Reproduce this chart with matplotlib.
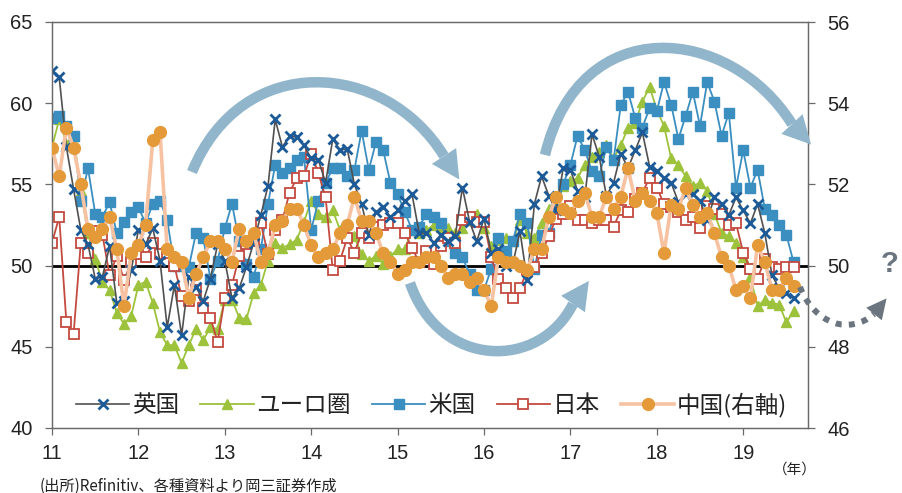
import matplotlib
matplotlib.use('Agg')
import matplotlib.pyplot as plt
import numpy as np
from matplotlib.path import Path
from matplotlib.patches import PathPatch, Polygon
from matplotlib import font_manager as fm

W, H = 903, 493

# ---------------- data (monthly, Jan 2011 - Aug 2019) ----------------
year_labels = ['11', '12', '13', '14', '15', '16', '17', '18', '19']

uk = [62.0, 61.6, 57.3, 54.7, 52.2, 51.3, 49.2, 49.3, 51.2, 47.7, 47.8, 49.7,
      52.2, 51.3, 52.3, 50.3, 46.2, 48.8, 45.7, 49.3, 48.7, 47.8, 49.2, 51.3,
      50.3, 48.0, 48.6, 49.9, 51.4, 53.1, 54.9, 59.0, 57.3, 58.0, 57.9, 57.4,
      56.6, 56.5, 55.1, 57.8, 57.1, 57.2, 55.0, 53.8, 51.9, 53.3, 53.6, 53.0,
      53.4, 54.0, 54.4, 52.0, 52.0, 51.4, 51.9, 51.5, 51.8, 54.8, 52.7, 51.5,
      52.9, 50.8, 51.0, 50.0, 50.1, 52.1, 49.1, 53.8, 55.5, 54.3, 53.4, 56.0,
      55.9, 54.6, 54.2, 58.1, 56.7, 54.3, 55.1, 56.9, 56.0, 57.1, 58.2, 56.1,
      55.8, 55.4, 55.1, 53.9, 54.4, 54.4, 54.0, 52.8, 54.2, 53.8, 53.1, 54.2,
      53.4, 52.6, 53.8, 52.0, 49.4, 48.6, 48.3, 48.0]

euro = [57.3, 59.0, 57.5, 58.0, 54.6, 52.0, 50.4, 49.0, 48.5, 47.1, 46.4, 46.9,
        48.8, 49.0, 47.7, 45.9, 45.1, 45.1, 44.0, 45.1, 46.1, 45.4, 46.2, 46.1,
        47.9, 47.9, 46.8, 46.7, 48.3, 48.8, 50.3, 51.4, 51.1, 51.3, 51.6, 52.7,
        54.0, 53.2, 53.0, 53.4, 52.2, 51.8, 51.8, 50.7, 50.3, 50.6, 50.1, 50.6,
        51.0, 51.0, 52.2, 52.0, 52.2, 52.5, 52.4, 52.3, 52.0, 52.3, 52.8, 53.2,
        52.3, 51.2, 51.6, 51.7, 51.5, 52.8, 52.0, 51.7, 52.6, 53.5, 53.7, 54.9,
        55.2, 55.4, 56.2, 56.7, 57.0, 57.4, 56.6, 57.4, 58.5, 58.8, 60.1, 61.0,
        59.6, 58.6, 56.6, 56.2, 55.5, 54.9, 55.1, 54.6, 53.2, 52.0, 51.8, 51.4,
        50.5, 49.3, 47.5, 47.9, 47.7, 47.6, 46.5, 47.2]

us = [59.1, 59.2, 58.6, 58.0, 54.0, 56.0, 53.2, 53.0, 53.9, 52.0, 52.7, 53.3,
      53.6, 52.6, 53.8, 54.0, 52.8, 50.0, 50.0, 49.9, 52.0, 51.7, 49.2, 50.3,
      52.3, 53.8, 51.5, 50.1, 49.3, 51.0, 53.8, 56.2, 55.7, 56.0, 56.5, 56.7,
      52.2, 54.0, 55.1, 56.0, 56.0, 55.5, 55.9, 58.3, 55.9, 57.6, 57.1, 55.1,
      54.4, 53.3, 52.2, 52.4, 53.2, 53.0, 52.6, 51.5, 50.8, 50.5, 49.5, 48.5,
      48.5, 49.8, 51.7, 50.9, 51.5, 53.2, 52.6, 49.8, 51.9, 52.0, 53.5, 55.0,
      56.2, 58.0, 57.1, 55.8, 55.5, 57.3, 56.5, 59.9, 60.7, 59.1, 58.5, 59.7,
      59.5, 61.3, 59.9, 57.8, 59.2, 60.7, 58.6, 61.3, 60.1, 58.0, 59.4, 54.8,
      57.1, 54.8, 55.9, 53.5, 53.1, 52.5, 51.9, 50.2]

japan = [51.4, 53.0, 46.5, 45.8, 51.4, 50.8, 52.1, 51.9, 49.4, 50.6, 49.1, 50.2,
         50.7, 50.5, 51.4, 50.7, 50.8, 50.0, 48.1, 47.8, 48.5, 47.4, 46.8, 45.3,
         48.0, 48.8, 50.6, 51.3, 51.5, 52.6, 50.7, 52.2, 52.8, 54.5, 55.4, 55.5,
         56.9, 55.7, 54.2, 49.7, 50.3, 51.7, 50.8, 52.0, 51.7, 52.4, 52.5, 52.6,
         52.6, 52.0, 51.1, 50.2, 50.9, 50.1, 51.2, 51.7, 51.4, 52.8, 53.0, 52.7,
         52.7, 50.5, 49.2, 48.6, 48.0, 48.6, 49.7, 49.9, 50.8, 51.8, 52.9, 53.2,
         53.7, 52.8, 52.8, 52.6, 52.8, 52.8, 52.4, 53.4, 53.3, 54.1, 54.5, 55.4,
         54.8, 53.8, 53.6, 53.3, 52.8, 53.0, 52.3, 53.7, 53.5, 53.2, 52.5, 52.6,
         50.8, 49.8, 49.2, 50.4, 49.9, 49.8, 49.9, 49.9]

china = [52.9, 52.2, 53.4, 52.9, 52.0, 50.9, 50.7, 50.9, 51.2, 50.4, 49.0, 50.3,
         50.5, 51.0, 53.1, 53.3, 50.4, 50.2, 50.1, 49.2, 49.8, 50.2, 50.6, 50.6,
         50.4, 50.1, 50.9, 50.6, 50.8, 50.1, 50.3, 51.0, 51.1, 51.4, 51.4, 51.0,
         50.5, 50.2, 50.3, 50.4, 50.8, 51.0, 51.7, 51.1, 51.1, 50.8, 50.3, 50.1,
         49.8, 49.9, 50.1, 50.1, 50.2, 50.2, 50.0, 49.7, 49.8, 49.8, 49.6, 49.7,
         49.4, 49.0, 50.2, 50.1, 50.1, 50.0, 49.9, 50.4, 50.4, 51.2, 51.7, 51.4,
         51.3, 51.6, 51.8, 51.2, 51.2, 51.7, 51.4, 51.7, 52.4, 51.6, 51.8, 51.6,
         51.3, 50.3, 51.5, 51.4, 51.9, 51.5, 51.2, 51.3, 50.8, 50.2, 50.0, 49.4,
         49.5, 49.2, 50.5, 50.1, 49.4, 49.4, 49.7, 49.5]

labels = ['英国', 'ユーロ圏', '米国', '日本', '中国(右軸)']

# ---------------- fonts ----------------
def available(name):
    try:
        fm.findfont(name, fallback_to_default=False)
        return True
    except Exception:
        return False

num_font = 'Liberation Sans' if available('Liberation Sans') else 'DejaVu Sans'
plt.rcParams['font.family'] = [num_font, 'Noto Sans CJK JP', 'DejaVu Sans']
cjk = ['Noto Sans CJK JP', 'DejaVu Sans']

# ---------------- figure ----------------
fig = plt.figure(figsize=(W / 100, H / 100), dpi=100)
fig.patch.set_facecolor('white')
L, R, T, B = 52, 808, 22, 428
ax = fig.add_axes([L / W, 1 - B / H, (R - L) / W, (B - T) / H])
ax2 = ax.twinx()

m = np.arange(len(uk))

ax.axhline(50, color='black', lw=2.0, zorder=1.5)

h_eu, = ax.plot(m, euro, color='#9dc23c', lw=1.3, marker='^', ms=7,
                mfc='#9dc23c', mec='#9dc23c', zorder=3)
h_us, = ax.plot(m, us, color='#3a8ec0', lw=1.3, marker='s', ms=7.5,
                mfc='#3a8ec0', mec='#3a8ec0', zorder=3)
h_jp, = ax.plot(m, japan, color='#c44a40', lw=1.3, marker='s', ms=7.5,
                mfc='white', mec='#c44a40', mew=1.3, zorder=3)
h_uk, = ax.plot(m, uk, color='#505050', lw=1.2, marker='x', ms=7,
                mec='#1d5a98', mew=2.0, zorder=4)
h_cn, = ax2.plot(m, china, color='#f6c2a2', lw=2.6, marker='o', ms=8.5,
                 mfc='#e49a38', mec='#e49a38', zorder=3)

ax.set_xlim(0, 105)
ax.set_ylim(40, 65)
ax2.set_ylim(46, 56)
ax.set_yticks([40, 45, 50, 55, 60, 65])
ax2.set_yticks([46, 48, 50, 52, 54, 56])
ax.set_xticks(np.arange(0, 97, 12))
ax.set_xticklabels(year_labels)

for a in (ax, ax2):
    for s in a.spines.values():
        s.set_color('#6a6a6a')
        s.set_linewidth(0.9)
ax.tick_params(axis='y', direction='out', length=5, width=0.9, pad=9,
               labelsize=14.5, color='#6a6a6a', labelcolor='#222222')
ax2.tick_params(axis='y', direction='out', length=5, width=0.9, pad=9,
                labelsize=14.5, color='#6a6a6a', labelcolor='#222222')
ax.tick_params(axis='x', direction='out', length=5, width=0.9, pad=6.5,
               labelsize=14.5, color='#6a6a6a', labelcolor='#222222')

leg = ax2.legend([h_uk, h_eu, h_us, h_jp, h_cn], labels, ncol=5, frameon=False,
                 loc='center left', bbox_to_anchor=(76 / W, 1 - 405 / H),
                 bbox_transform=fig.transFigure, borderpad=0, borderaxespad=0,
                 handlelength=2.25, handletextpad=0.12, columnspacing=0.9,
                 numpoints=1, prop={'family': cjk, 'size': 17})
for t in leg.get_texts():
    t.set_color('#222222')

# ---------------- annotation arrows ----------------
def fx(x, y):
    return (x / W, 1 - y / H)

def curved_arrow(p0, p1, p2, p3, color, lw_px, head_w, head_l,
                 head_dir=None, ls='-', z=10):
    verts = [fx(*p) for p in (p0, p1, p2, p3)]
    path = Path(verts, [Path.MOVETO, Path.CURVE4, Path.CURVE4, Path.CURVE4])
    patch = PathPatch(path, fill=False, edgecolor=color, lw=lw_px * 0.72,
                      capstyle='butt', linestyle=ls, transform=fig.transFigure,
                      zorder=z)
    fig.add_artist(patch)
    d = np.array(head_dir if head_dir is not None else np.subtract(p3, p2), float)
    d /= np.hypot(*d)
    n = np.array([-d[1], d[0]])
    base = np.array(p3, float)
    tip = base + d * head_l
    w1 = base + n * head_w / 2
    w2 = base - n * head_w / 2
    poly = Polygon([fx(*tip), fx(*w1), fx(*w2)], closed=True, facecolor=color,
                   edgecolor='none', transform=fig.transFigure, zorder=z)
    fig.add_artist(poly)

acol = '#91b6cb'
curved_arrow((192, 172), (242, 50), (385, 60), (444, 156), acol, 10.5, 29, 28,
             head_dir=(15, 23))
curved_arrow((410, 283), (440, 370), (540, 370), (573, 304), acol, 10.5, 29, 28,
             head_dir=(17, -24.7))
curved_arrow((545, 155), (580, 10), (730, 25), (792, 124), acol, 10.5, 29, 28,
             head_dir=(19.5, 21))
gcol = '#6b7580'
curved_arrow((800, 287), (815, 325), (850, 335), (874, 314), gcol, 6, 20, 20,
             head_dir=(14.5, -18), ls=(0, (1, 1.2)))
fig.text(890 / W, 1 - 264 / H, '?', color=gcol, fontsize=21, fontweight='bold',
         ha='center', va='center', family=['Liberation Sans', 'DejaVu Sans'])

# ---------------- texts ----------------
fig.text(795 / W, 1 - 470 / H, '（年）', fontsize=10.5, ha='center', va='center',
         family=cjk, color='#222222')
fig.text(40 / W, 1 - 486 / H, '(出所)Refinitiv、各種資料より岡三証券作成',
         fontsize=11, ha='left', va='center', family=cjk, color='#222222')

fig.savefig('out.png', dpi=100, facecolor='white')
